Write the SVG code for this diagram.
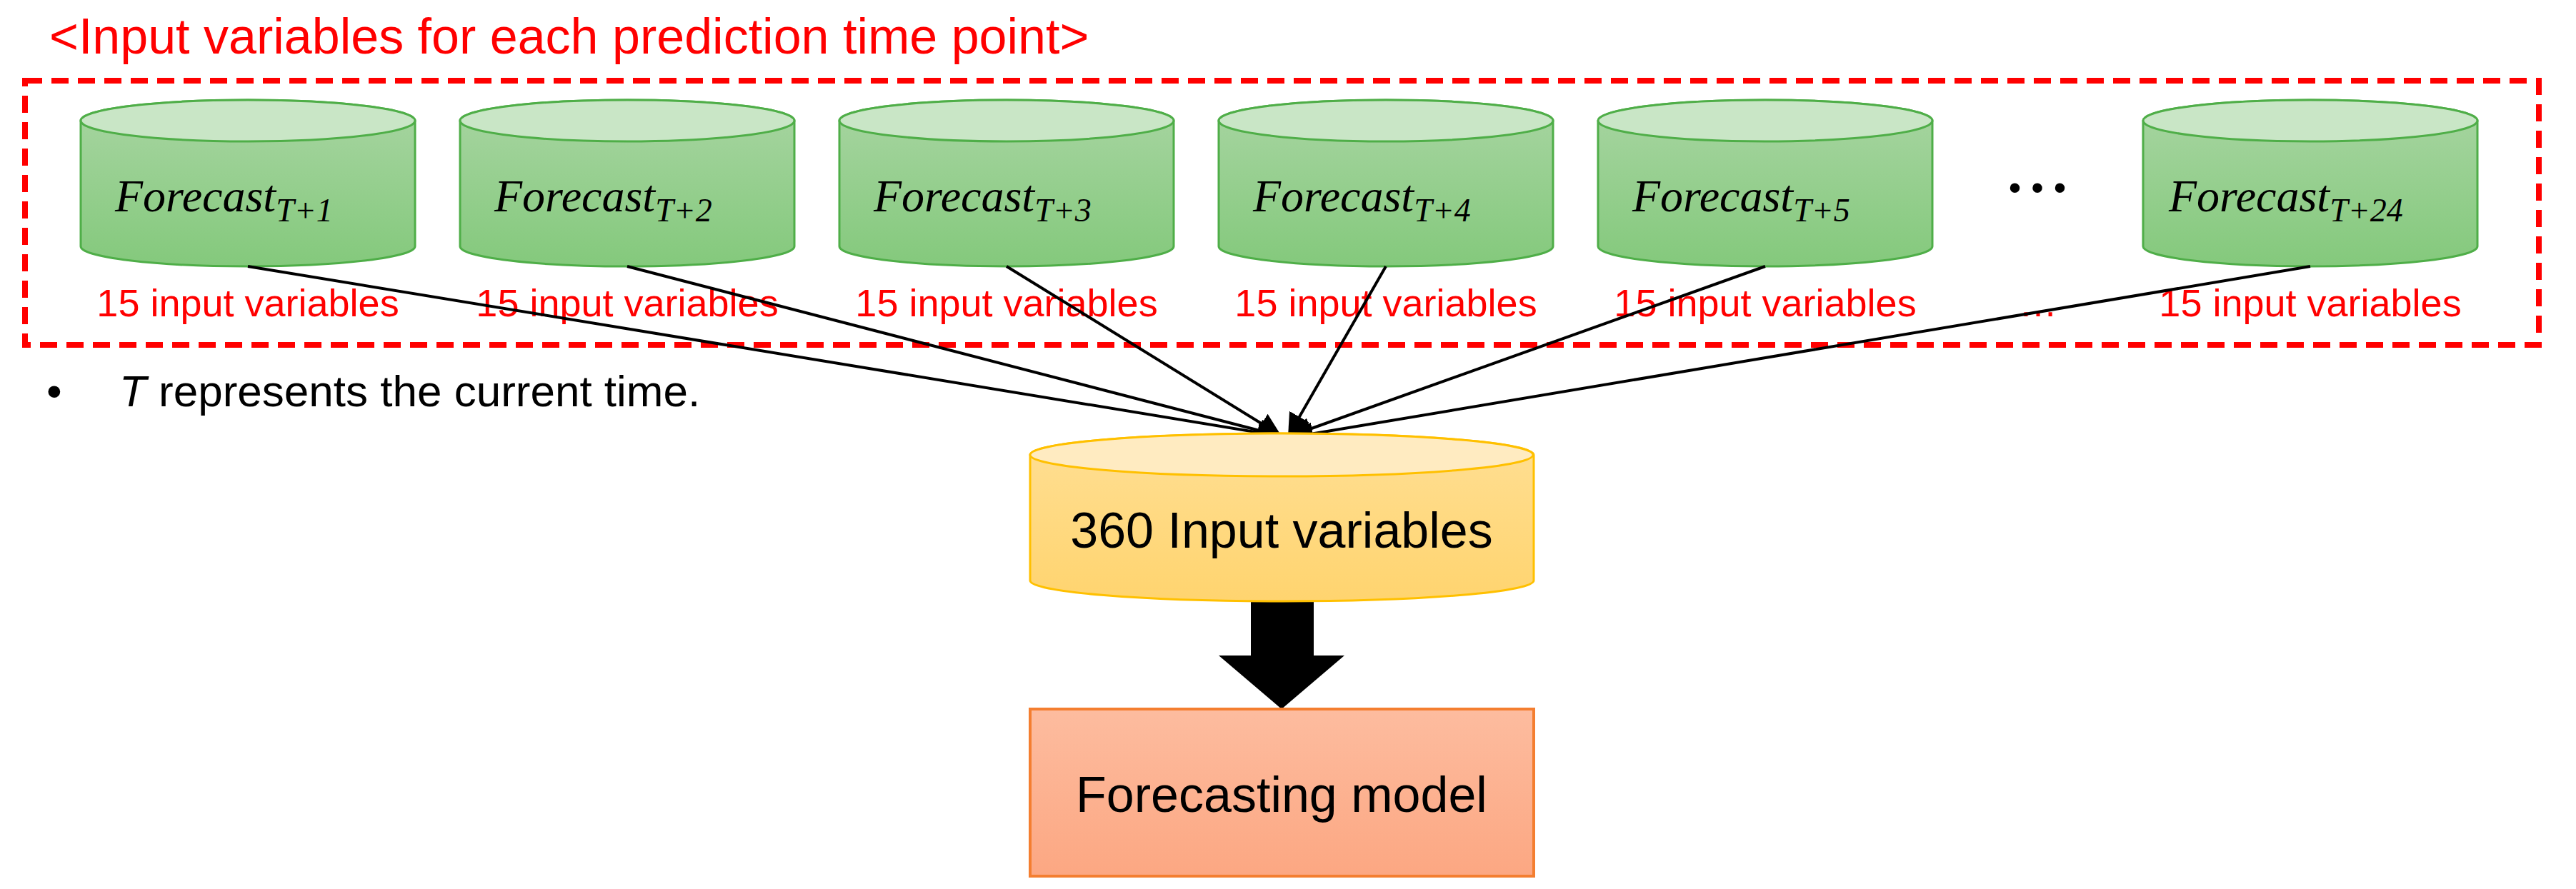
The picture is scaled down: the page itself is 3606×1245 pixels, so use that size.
<svg xmlns="http://www.w3.org/2000/svg" width="3606" height="1245" viewBox="0 0 3606 1245">
<style>
.cyl{fill:url(#gb);stroke:#4fae48;stroke-width:3}
.cyt{fill:#c9e6c6;stroke:#4fae48;stroke-width:3}
.fc{font-family:"Liberation Serif",serif;font-style:italic;font-size:64px;fill:#000}
.sub{font-size:46px}
.lab{font-family:"Liberation Sans",Arial,sans-serif;font-size:54px;fill:#ff0000;text-anchor:middle}
.con{stroke:#000;stroke-width:4;fill:none;marker-end:url(#ah)}
</style>
<defs>
<linearGradient id="gb" x1="0" y1="0" x2="0" y2="1"><stop offset="0" stop-color="#a8d5a2"/><stop offset="1" stop-color="#84c97c"/></linearGradient>
<linearGradient id="yb" x1="0" y1="0" x2="0" y2="1"><stop offset="0" stop-color="#ffdf94"/><stop offset="1" stop-color="#ffd46f"/></linearGradient>
<linearGradient id="ob" x1="0" y1="0" x2="0" y2="1"><stop offset="0" stop-color="#fdbc9f"/><stop offset="1" stop-color="#fca782"/></linearGradient>
<marker id="ah" markerWidth="8" markerHeight="8" refX="7" refY="4" orient="auto" markerUnits="strokeWidth"><path d="M0,0 L8,4 L0,8 Z" fill="#000"/></marker>
</defs>
<rect width="3606" height="1245" fill="#fff"/>
<text x="69" y="75" font-family="Liberation Sans,Arial,sans-serif" font-size="70" fill="#ff0000">&lt;Input variables for each prediction time point&gt;</text>
<rect x="35" y="113" width="3519" height="370" fill="none" stroke="#ff0000" stroke-width="8" stroke-dasharray="24,13"/>
<g id="f1"><path class="cyl" d="M113,169 A234,29 0 0 1 581,169 V345 A234,28 0 0 1 113,345 Z"/><ellipse class="cyt" cx="347" cy="169" rx="234" ry="29"/><text class="fc" x="161" y="296">Forecast<tspan class="sub" dy="14">T+1</tspan></text></g>
<g id="f2"><path class="cyl" d="M644,169 A234,29 0 0 1 1112,169 V345 A234,28 0 0 1 644,345 Z"/><ellipse class="cyt" cx="878" cy="169" rx="234" ry="29"/><text class="fc" x="692" y="296">Forecast<tspan class="sub" dy="14">T+2</tspan></text></g>
<g id="f3"><path class="cyl" d="M1175,169 A234,29 0 0 1 1643,169 V345 A234,28 0 0 1 1175,345 Z"/><ellipse class="cyt" cx="1409" cy="169" rx="234" ry="29"/><text class="fc" x="1223" y="296">Forecast<tspan class="sub" dy="14">T+3</tspan></text></g>
<g id="f4"><path class="cyl" d="M1706,169 A234,29 0 0 1 2174,169 V345 A234,28 0 0 1 1706,345 Z"/><ellipse class="cyt" cx="1940" cy="169" rx="234" ry="29"/><text class="fc" x="1754" y="296">Forecast<tspan class="sub" dy="14">T+4</tspan></text></g>
<g id="f5"><path class="cyl" d="M2237,169 A234,29 0 0 1 2705,169 V345 A234,28 0 0 1 2237,345 Z"/><ellipse class="cyt" cx="2471" cy="169" rx="234" ry="29"/><text class="fc" x="2285" y="296">Forecast<tspan class="sub" dy="14">T+5</tspan></text></g>
<g id="f24"><path class="cyl" d="M3000,169 A234,29 0 0 1 3468,169 V345 A234,28 0 0 1 3000,345 Z"/><ellipse class="cyt" cx="3234" cy="169" rx="234" ry="29"/><text class="fc" x="3036" y="296">Forecast<tspan class="sub" dy="14">T+24</tspan></text></g>
<text x="2852" y="280" font-family="Liberation Sans,Arial,sans-serif" font-size="50" text-anchor="middle">• • •</text>
<g id="labels">
<text class="lab" x="347" y="443">15 input variables</text>
<text class="lab" x="878" y="443">15 input variables</text>
<text class="lab" x="1409" y="443">15 input variables</text>
<text class="lab" x="1940" y="443">15 input variables</text>
<text class="lab" x="2471" y="443">15 input variables</text>
<text class="lab" x="2853" y="443">…</text>
<text class="lab" x="3234" y="443">15 input variables</text>
</g>
<text x="65" y="569" font-family="Liberation Sans,Arial,sans-serif" font-size="62">•<tspan x="167" font-style="italic">T</tspan> represents the current time.</text>
<g id="connectors">
<line class="con" x1="347" y1="373" x2="1788" y2="610"/>
<line class="con" x1="878" y1="373" x2="1790" y2="610"/>
<line class="con" x1="1409" y1="373" x2="1790" y2="608"/>
<line class="con" x1="1940" y1="373" x2="1805" y2="608"/>
<line class="con" x1="2471" y1="373" x2="1808" y2="610"/>
<line class="con" x1="3234" y1="373" x2="1810" y2="612"/>
<path d="M1751,842 H1839 V918 H1882 L1794,993 L1706,918 H1751 Z" fill="#000"/>
</g>
<g id="input360"><path d="M1442,637 A352,30 0 0 1 2147,637 V813 A352,29 0 0 1 1442,813 Z" fill="url(#yb)" stroke="#ffc000" stroke-width="3"/><ellipse cx="1794" cy="637" rx="352" ry="30" fill="#ffebc1" stroke="#ffc000" stroke-width="3"/><text x="1794" y="767" font-family="Liberation Sans,Arial,sans-serif" font-size="70" text-anchor="middle">360 Input variables</text></g>
<g id="model"><rect x="1442" y="993" width="705" height="234" fill="url(#ob)" stroke="#f47e30" stroke-width="4"/><text x="1794" y="1137" font-family="Liberation Sans,Arial,sans-serif" font-size="70" text-anchor="middle">Forecasting model</text></g>
</svg>
